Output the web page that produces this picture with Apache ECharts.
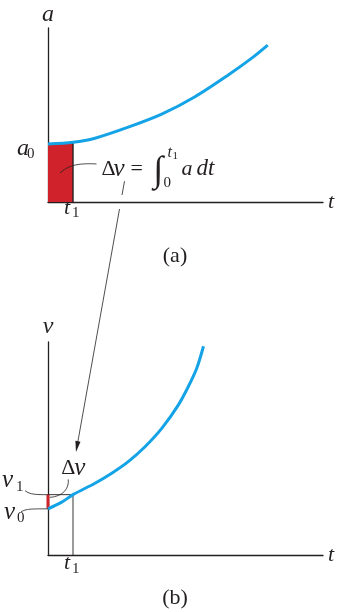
<!DOCTYPE html>
<html>
<head>
<meta charset="utf-8">
<script src="https://cdn.jsdelivr.net/npm/echarts@6/dist/echarts.min.js"></script>
<style>
  html, body { margin: 0; padding: 0; background: #fff; }
  #chart { width: 341px; height: 612px; }
</style>
</head>
<body>
<div id="chart"></div>
<script>
// Acceleration curve a(t) (panel a)
const tA    = [0, 1, 1.88, 3.21, 4.55, 5.88, 7.21, 8.15, 8.79];
const accel = [2.0, 2.06, 2.20, 2.58, 3.03, 3.63, 4.38, 4.96, 5.41];

// Velocity curve v(t) (panel b)
const tV       = [0, 0.55, 1, 1.88, 2.55, 3.21, 3.88, 4.55, 5.21, 5.61, 5.95, 6.22];
const velocity = [6.5, 7.44, 8.5, 10.11, 11.52, 13.15, 15.25, 17.83, 21.11, 23.70, 26.30, 29.4];

// Marked instants / levels
const t1 = 1;
const a0 = 2.0;
const v0 = 6.5;
const v1 = 8.5;

const SERIF = 'Liberation Serif';
const BLUE = '#13a3e6';
const RED = '#d0222a';
const INK = '#231f20';

const zip = (xs, ys) => xs.map((x, i) => [x, ys[i]]);

function xAx(gridIndex) {
  return {
    gridIndex, type: 'value', min: 0, max: 11,
    name: 't', nameLocation: 'end', nameGap: 5,
    nameTextStyle: { fontFamily: SERIF, fontStyle: 'italic', fontSize: 22, color: INK, verticalAlign: 'middle' },
    axisLine: { lineStyle: { color: INK, width: 1.3 } },
    axisTick: { show: false }, axisLabel: { show: false }, splitLine: { show: false }
  };
}
function yAx(gridIndex, max, name, gap) {
  return {
    gridIndex, type: 'value', min: 0, max,
    name, nameLocation: 'end', nameGap: gap,
    nameTextStyle: { fontFamily: SERIF, fontStyle: 'italic', fontSize: 24, color: INK, align: 'center' },
    axisLine: { lineStyle: { color: INK, width: 1.3 } },
    axisTick: { show: false }, axisLabel: { show: false }, splitLine: { show: false }
  };
}

const chart = echarts.init(document.getElementById('chart'));
chart.setOption({
  animation: false,
  grid: [
    { left: 48, top: 28, width: 275, height: 174 },
    { left: 48, top: 342, width: 275, height: 213 }
  ],
  xAxis: [xAx(0), xAx(1)],
  yAxis: [yAx(0, 6, 'a', 1), yAx(1, 30, 'v', 3)],
  series: [
    // area under a(t) from 0 to t1
    { type: 'line', xAxisIndex: 0, yAxisIndex: 0, clip: false, symbol: 'none', z: 3,
      data: zip(tA.slice(0, 2), accel.slice(0, 2)),
      lineStyle: { width: 0 }, areaStyle: { color: RED, opacity: 1 } },
    { type: 'line', xAxisIndex: 0, yAxisIndex: 0, clip: false, symbol: 'none', z: 4,
      data: [[t1, 0], [t1, accel[1]]],
      lineStyle: { color: INK, width: 1.4 } },
    { type: 'line', xAxisIndex: 0, yAxisIndex: 0, clip: false, symbol: 'none', z: 5,
      data: zip(tA, accel), smooth: 0.3,
      lineStyle: { color: BLUE, width: 3 } },
    // guides at t1 / v1
    { type: 'line', xAxisIndex: 1, yAxisIndex: 1, clip: false, symbol: 'none', z: 3,
      data: [[0, v1], [t1, v1], [t1, 0]],
      lineStyle: { color: INK, width: 0.9 } },
    // velocity change on the v axis
    { type: 'line', xAxisIndex: 1, yAxisIndex: 1, clip: false, symbol: 'none', z: 4,
      data: [[0, v0], [0, v1]],
      lineStyle: { color: RED, width: 3 } },
    { type: 'line', xAxisIndex: 1, yAxisIndex: 1, clip: false, symbol: 'none', z: 5,
      data: zip(tV, velocity), smooth: 0.3,
      lineStyle: { color: BLUE, width: 3 } }
  ]
});

const px = (g, p) => chart.convertToPixel({ gridIndex: g }, p);

function txt(x, y, s, size, italic, align) {
  return {
    type: 'text', x, y, z: 10,
    style: {
      text: s, fill: INK, align: align || 'left', verticalAlign: 'middle',
      fontFamily: SERIF, fontSize: size, fontStyle: italic ? 'italic' : 'normal'
    }
  };
}
function curve(p0, c1, c2, p1, w) {
  return {
    type: 'bezierCurve', z: 10, silent: true,
    shape: { x1: p0[0], y1: p0[1], cpx1: c1[0], cpy1: c1[1], cpx2: c2[0], cpy2: c2[1], x2: p1[0], y2: p1[1] },
    style: { stroke: INK, lineWidth: w || 0.8, fill: null }
  };
}
function seg(p0, p1, w) {
  return {
    type: 'line', z: 10, silent: true,
    shape: { x1: p0[0], y1: p0[1], x2: p1[0], y2: p1[1] },
    style: { stroke: INK, lineWidth: w || 0.8 }
  };
}

const g = [];

// ---- panel (a) labels ----
const oA = px(0, [0, 0]);
const pa0 = px(0, [0, a0]);
g.push(txt(pa0[0] - 31, pa0[1] + 5, 'a', 24, true));
g.push(txt(pa0[0] - 21, pa0[1] + 10, '0', 15, false));

const pt1a = px(0, [t1, 0]);
g.push(txt(pt1a[0] - 9, pt1a[1] + 6, 't', 22, true));
g.push(txt(pt1a[0] - 1, pt1a[1] + 11, '1', 15, false));

// Δv = ∫0^t1 a dt
const f = px(0, [2.1, 1.14]);
g.push(txt(f[0] + 1, f[1], 'Δ', 22, false));
g.push(txt(f[0] + 13, f[1], 'v', 25, true));
g.push(txt(f[0] + 30, f[1], '=', 22, false));
g.push(txt(f[0] + 53, f[1] + 3, '∫', 36, false));
g.push(txt(f[0] + 67, f[1] - 16, 't', 16, true));
g.push(txt(f[0] + 72, f[1] - 13, '1', 11, false));
g.push(txt(f[0] + 63, f[1] + 14, '0', 15, false));
g.push(txt(f[0] + 81, f[1], 'a', 22, true));
g.push(txt(f[0] + 96, f[1], 'dt', 23, true));

// leader from shaded area to the formula
g.push(curve([oA[0] + 12, f[1] + 4], [oA[0] + 20, f[1] - 3], [oA[0] + 28, f[1] - 6], [f[0] - 4, f[1] - 5]));

g.push(txt(oA[0] + 127, oA[1] + 54, '(a)', 22, false, 'center'));

// ---- panel (b) labels ----
const oB = px(1, [0, 0]);
const pv1 = px(1, [0, v1]);
const pv0 = px(1, [0, v0]);
g.push(txt(pv1[0] - 46, pv1[1] - 14, 'v', 25, true));
g.push(txt(pv1[0] - 32, pv1[1] - 8, '1', 15, false));
g.push(curve([pv1[0] - 23, pv1[1] - 4], [pv1[0] - 18, pv1[1]], [pv1[0] - 12, pv1[1]], [pv1[0], pv1[1]]));

g.push(txt(pv0[0] - 44, pv0[1] + 4, 'v', 25, true));
g.push(txt(pv0[0] - 31, pv0[1] + 9, '0', 15, false));
g.push(curve([pv0[0] - 27, pv0[1] + 3], [pv0[0] - 22, pv0[1]], [pv0[0] - 17, pv0[1]], [pv0[0], pv0[1]]));

const dv = px(1, [1.05, 12.2]);
g.push(txt(dv[0] - 13, dv[1], 'Δ', 22, false));
g.push(txt(dv[0], dv[1], 'v', 25, true));
g.push(curve([dv[0] - 6, dv[1] + 11], [dv[0] - 5, dv[1] + 20], [dv[0] - 11, dv[1] + 28], [pv1[0] + 2, dv[1] + 29]));

const pt1b = px(1, [t1, 0]);
g.push(txt(pt1b[0] - 9, pt1b[1] + 8, 't', 22, true));
g.push(txt(pt1b[0] - 1, pt1b[1] + 14, '1', 15, false));

g.push(txt(oB[0] + 127, oB[1] + 43, '(b)', 22, false, 'center'));

// ---- arrow linking the area in (a) to the jump in (b) ----
const aFrom = px(0, [3.06, 0.72]);
const aTo = px(1, [1.12, 14.5]);
const dx = aTo[0] - aFrom[0], dy = aTo[1] - aFrom[1];
const len = Math.hypot(dx, dy);
const ux = dx / len, uy = dy / len;
const at = (y) => [aFrom[0] + (y - aFrom[1]) * dx / dy, y];
// broken where it crosses the t axis of panel (a)
g.push(seg(aFrom, at(oA[1] - 7), 0.8));
g.push(seg(at(oA[1] + 7), [aTo[0] - ux * 8, aTo[1] - uy * 8], 0.8));
const hl = 11, hw = 2.6;
const bx = aTo[0] - ux * hl, by = aTo[1] - uy * hl;
g.push({
  type: 'polygon', z: 10, silent: true,
  shape: { points: [aTo, [bx - uy * hw, by + ux * hw], [bx + uy * hw, by - ux * hw]] },
  style: { fill: INK }
});

chart.setOption({ graphic: { elements: g } });
</script>
</body>
</html>
